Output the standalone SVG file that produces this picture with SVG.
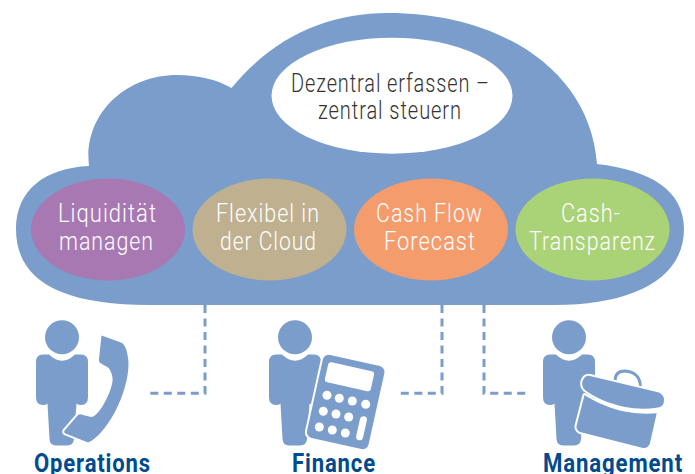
<svg xmlns="http://www.w3.org/2000/svg" width="695" height="474" viewBox="0 0 695 474">
<style>
.b{fill:#7a9dcb}
.w{fill:#fff}
.t{font-family:Roboto,"Liberation Sans",sans-serif;font-weight:300;font-size:26px;letter-spacing:1.200px;fill:#fff}
.d{fill:#333}
.l{font-family:Roboto,"Liberation Sans",sans-serif;font-size:26px;font-weight:700;letter-spacing:1px;fill:#004a8f}
.c{fill:none;stroke:#7a9dcb;stroke-width:3;stroke-dasharray:8 5.5}
.h{stroke:#fff;stroke-width:4;stroke-linejoin:round;paint-order:stroke}
</style>
<defs>
<g id="person">
<circle class="b" cx="62" cy="337.3" r="17"/>
<path class="b" d="M43 354.500Q36 354.500 36 362V397Q36 405 43 405Q46.500 405 47.500 403.500L49.500 439Q50 445.500 56 445.500H67Q73.500 445.500 74 439L76.500 403.500Q78 405 81 405Q88 405 88 397V362Q88 354.500 81 354.500H75Q62 367 49 354.500Z"/>
</g>
</defs>
<g id="cloud">
<path class="b" d="M89 166C83 115 125 75 177 75C198 75 218 80 231.500 88C275 35 330 13 388 13C500 13 590 70 597 164C650 170 684 190 684 229C684 280 630 305 555 305H150C60 305 16 280 16 229C16 190 45 168 89 166Z"/>
</g>
<g id="connectors">
<path class="c" d="M205 305V393.300H150"/>
<path class="c" d="M442 305V393.300H397"/>
<path class="c" d="M484 305V393.300H529"/>
</g>
<g id="center">
<ellipse class="w" cx="392" cy="95.700" rx="120.500" ry="58"/>
<text class="t d" x="291" y="92" textLength="199" lengthAdjust="spacingAndGlyphs">Dezentral erfassen –</text>
<text class="t d" x="318" y="119" textLength="144" lengthAdjust="spacingAndGlyphs">zentral steuern</text>
</g>
<g id="liquiditaet">
<ellipse cx="108" cy="229.500" rx="77" ry="51" fill="#a878b3"/>
<text class="t" x="58" y="222" textLength="99" lengthAdjust="spacingAndGlyphs">Liquidität</text>
<text class="t" x="59" y="250" textLength="95" lengthAdjust="spacingAndGlyphs">managen</text>
</g>
<g id="flexibel">
<ellipse cx="269.500" cy="229.500" rx="77" ry="51" fill="#bfb08f"/>
<text class="t" x="216" y="222" textLength="104" lengthAdjust="spacingAndGlyphs">Flexibel in</text>
<text class="t" x="220" y="250" textLength="97" lengthAdjust="spacingAndGlyphs">der Cloud</text>
</g>
<g id="cashflow">
<ellipse cx="431" cy="229.500" rx="77" ry="51" fill="#f49c6c"/>
<text class="t" x="376" y="222" textLength="107" lengthAdjust="spacingAndGlyphs">Cash Flow</text>
<text class="t" x="384" y="250" textLength="92" lengthAdjust="spacingAndGlyphs">Forecast</text>
</g>
<g id="transparenz">
<ellipse cx="592.500" cy="229.500" rx="77" ry="51" fill="#aad277"/>
<text class="t" x="561" y="222" textLength="60" lengthAdjust="spacingAndGlyphs">Cash-</text>
<text class="t" x="529" y="250" textLength="127" lengthAdjust="spacingAndGlyphs">Transparenz</text>
</g>
<g id="operations">
<use href="#person"/>
<path class="b h" d="M101.500 335.500L121 342.500Q127 345 128.500 362C129 395 105 436 88 442.500L65.500 433.500Q63 432 65 430L78 415Q80 413.500 83 415L91 417C100 417 115 385 112.300 376.700Q111 370 108 367.500L101 363.500Q98.500 362 99 359Z"/>
<text class="l" x="34" y="472" textLength="117" lengthAdjust="spacingAndGlyphs">Operations</text>
</g>
<g id="finance">
<use href="#person" x="233"/>
<rect class="b h" x="314.200" y="359.500" width="63" height="85" rx="6" transform="rotate(12.500 345.700 402)"/>
<rect class="w" x="326" y="366.500" width="47" height="20.500" rx="3" transform="rotate(12.500 349.500 376.700)"/>
<g class="w">
<circle cx="327" cy="395.300" r="4.500"/><circle cx="339.300" cy="398.300" r="4.500"/><circle cx="352.300" cy="401" r="4.500"/><circle cx="365.700" cy="404.300" r="4.500"/>
<circle cx="323.300" cy="411.300" r="4.500"/><circle cx="336" cy="414" r="4.500"/><circle cx="348.700" cy="417" r="4.500"/>
<circle cx="319.300" cy="427" r="4.500"/><circle cx="332.300" cy="430" r="4.500"/><circle cx="345.300" cy="433" r="4.500"/>
<rect x="358" y="416" width="7" height="24.500" rx="3.500" transform="rotate(12.500 361.500 428.300)"/>
</g>
<text class="l" x="292" y="472" textLength="84" lengthAdjust="spacingAndGlyphs">Finance</text>
</g>
<g id="management">
<use href="#person" x="507"/>
<path fill="none" stroke="#7a9dcb" stroke-width="2.800" d="M615 381Q615 371 625 371Q640 372 640.500 387"/>
<path class="b h" d="M656.700 413.300L650 443Q648.500 448.500 643 448L580 432Q576 430 576.500 426L584.500 395C600 405 625 416 656.700 413.300Z"/>
<path class="b h" d="M590 376L659 392.500Q664 395 664 400Q664 407 658 407.500C625 413 595 398 585 390Q581 386 582.500 381Q585 375 590 376Z"/>
<text class="l" x="543" y="472" textLength="140" lengthAdjust="spacingAndGlyphs">Management</text>
</g>
</svg>
